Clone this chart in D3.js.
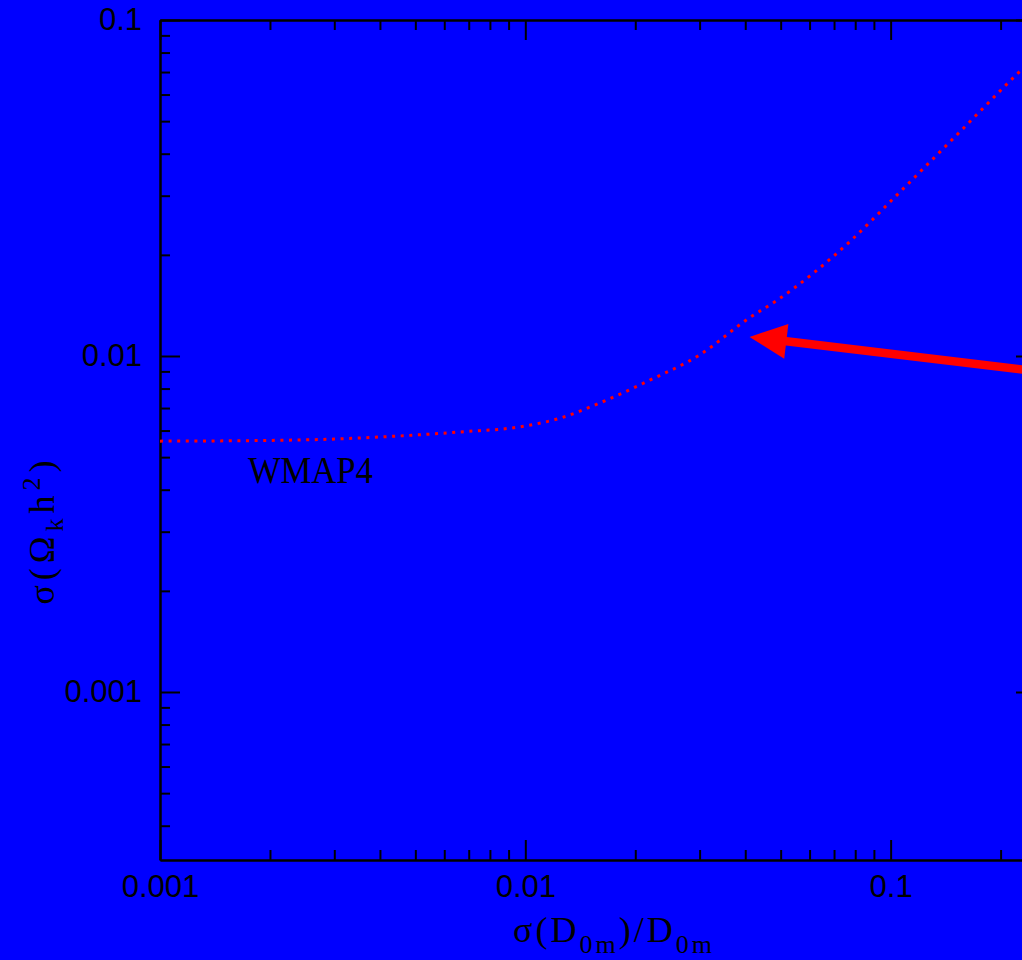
<!DOCTYPE html>
<meta charset="utf-8">
<style>
  body { margin: 0; background: #0000ff; }
  svg { display: block; background: #0000ff; }
  .axis path, .axis line { stroke: #000; stroke-width: 2px; }
  .axis text { font-family: "Liberation Sans", sans-serif; font-size: 31px; fill: #000; }
  .lbl { font-family: "Liberation Serif", serif; fill: #000; }
  .curve { fill: none; stroke: #ff0000; stroke-width: 3px; stroke-dasharray: 3,5.6; }
</style>
<body>
<script src="https://cdn.jsdelivr.net/npm/d3@7"></script>
<script>

  // tick labels
  var xTicks = [0.001, 0.01, 0.1];
  var yTicks = [0.001, 0.01, 0.1];
  var xDomain = [0.001, 0.25];
  var yDomain = [Math.pow(10, -3.5), 0.1];

  // WMAP4 curve
  var curveX = [0.001, 0.0018, 0.003, 0.0045, 0.0066, 0.01, 0.0125, 0.016, 0.022, 0.030, 0.041, 0.049, 0.078, 0.102, 0.146, 0.229, 0.26];
  var curveY = [0.00558, 0.0056, 0.00566, 0.00578, 0.00594, 0.00619, 0.00654, 0.00725, 0.00849, 0.01007, 0.01298, 0.01468, 0.0221, 0.0295, 0.0436, 0.0714, 0.0815];

  // arrow, from tail to head
  var arrowX = [0.3, 0.0411];
  var arrowY = [0.0088, 0.01140];

  var noteText = "WMAP4";
  var noteX = 0.00174, noteY = 0.00419;

  var W = 1022, H = 960;
  var mLeft = 160, mRight = 1036, mTop = 20, mBottom = 860;

  var svg = d3.select("body").append("svg").attr("width", W).attr("height", H);

  var x = d3.scaleLog().domain(xDomain).range([mLeft, mRight]);
  var y = d3.scaleLog().domain(yDomain).range([mBottom, mTop]);

  function minors(dom) {
    var out = [];
    for (var e = -5; e <= 1; e++)
      for (var k = 2; k <= 9; k++) {
        var v = k * Math.pow(10, e);
        if (v > dom[0] && v < dom[1]) out.push(v);
      }
    return out;
  }
  var xMinor = minors(xDomain), yMinor = minors(yDomain);

  svg.append("defs").append("clipPath").attr("id", "plot")
    .append("rect").attr("x", mLeft).attr("y", mTop).attr("width", mRight - mLeft).attr("height", mBottom - mTop);

  // minor ticks
  svg.append("g").attr("class", "axis").attr("transform", "translate(0," + mBottom + ")")
    .call(d3.axisBottom(x).tickValues(xMinor).tickSize(-10).tickSizeOuter(0).tickFormat(""));
  svg.append("g").attr("class", "axis").attr("transform", "translate(0," + mTop + ")")
    .call(d3.axisTop(x).tickValues(xMinor).tickSize(-10).tickSizeOuter(0).tickFormat(""));
  svg.append("g").attr("class", "axis").attr("transform", "translate(" + mLeft + ",0)")
    .call(d3.axisLeft(y).tickValues(yMinor).tickSize(-10).tickSizeOuter(0).tickFormat(""));
  svg.append("g").attr("class", "axis").attr("transform", "translate(" + mRight + ",0)")
    .call(d3.axisRight(y).tickValues(yMinor).tickSize(-10).tickSizeOuter(0).tickFormat(""));

  // major ticks + labels
  var fmt = function(d) { return String(d); };
  svg.append("g").attr("class", "axis").attr("transform", "translate(0," + mBottom + ")")
    .call(d3.axisBottom(x).tickValues(xTicks).tickSize(-20).tickSizeOuter(0).tickPadding(15).tickFormat(fmt));
  svg.append("g").attr("class", "axis").attr("transform", "translate(0," + mTop + ")")
    .call(d3.axisTop(x).tickValues(xTicks).tickSize(-20).tickSizeOuter(0).tickFormat(""));
  svg.append("g").attr("class", "axis").attr("transform", "translate(" + mLeft + ",0)")
    .call(d3.axisLeft(y).tickValues(yTicks).tickSize(-20).tickSizeOuter(0).tickPadding(18).tickFormat(fmt));
  svg.append("g").attr("class", "axis").attr("transform", "translate(" + mRight + ",0)")
    .call(d3.axisRight(y).tickValues(yTicks).tickSize(-20).tickSizeOuter(0).tickFormat(""));

  var plot = svg.append("g").attr("clip-path", "url(#plot)");

  var pts = curveX.map(function(v, i) { return [v, curveY[i]]; });
  plot.append("path").attr("class", "curve")
    .attr("d", d3.line().x(function(d) { return x(d[0]); }).y(function(d) { return y(d[1]); })
      .curve(d3.curveMonotoneX)(pts));

  // arrow
  var tx = x(arrowX[0]), ty = y(arrowY[0]), hx = x(arrowX[1]), hy = y(arrowY[1]);
  var dx = hx - tx, dy = hy - ty, len = Math.sqrt(dx * dx + dy * dy);
  var ux = dx / len, uy = dy / len, headLen = 37, headW = 17.5;
  var bx = hx - ux * headLen, by = hy - uy * headLen;
  svg.append("line")
    .attr("x1", tx).attr("y1", ty).attr("x2", bx + ux * 2).attr("y2", by + uy * 2)
    .attr("stroke", "#ff0000").attr("stroke-width", 8.5);
  svg.append("path").attr("fill", "#ff0000")
    .attr("d", "M" + hx + "," + hy +
      "L" + (bx - uy * headW) + "," + (by + ux * headW) +
      "L" + (bx + uy * headW) + "," + (by - ux * headW) + "Z");

  svg.append("text").attr("class", "lbl")
    .attr("x", x(noteX)).attr("y", y(noteY))
    .attr("font-size", 38).attr("textLength", 125).attr("lengthAdjust", "spacingAndGlyphs")
    .text(noteText);

  // axis titles
  var xt = svg.append("text").attr("class", "lbl").attr("font-size", 36)
    .attr("letter-spacing", 3)
    .attr("x", 614).attr("y", 942).attr("text-anchor", "middle");
  xt.append("tspan").text("σ(D");
  xt.append("tspan").attr("font-size", 26).attr("dy", 11).text("0m");
  xt.append("tspan").attr("dy", -11).text(")/D");
  xt.append("tspan").attr("font-size", 26).attr("dy", 11).text("0m");

  var yt = svg.append("text").attr("class", "lbl").attr("font-size", 36)
    .attr("letter-spacing", 5)
    .attr("text-anchor", "middle")
    .attr("transform", "translate(54,530) rotate(-90)");
  yt.append("tspan").text("σ(Ω");
  yt.append("tspan").attr("font-size", 26).attr("dy", 9).text("k");
  yt.append("tspan").attr("dy", -9).text("h");
  yt.append("tspan").attr("font-size", 26).attr("dy", -14).text("2");
  yt.append("tspan").attr("dy", 14).text(")");

</script>
</body>
</html>
